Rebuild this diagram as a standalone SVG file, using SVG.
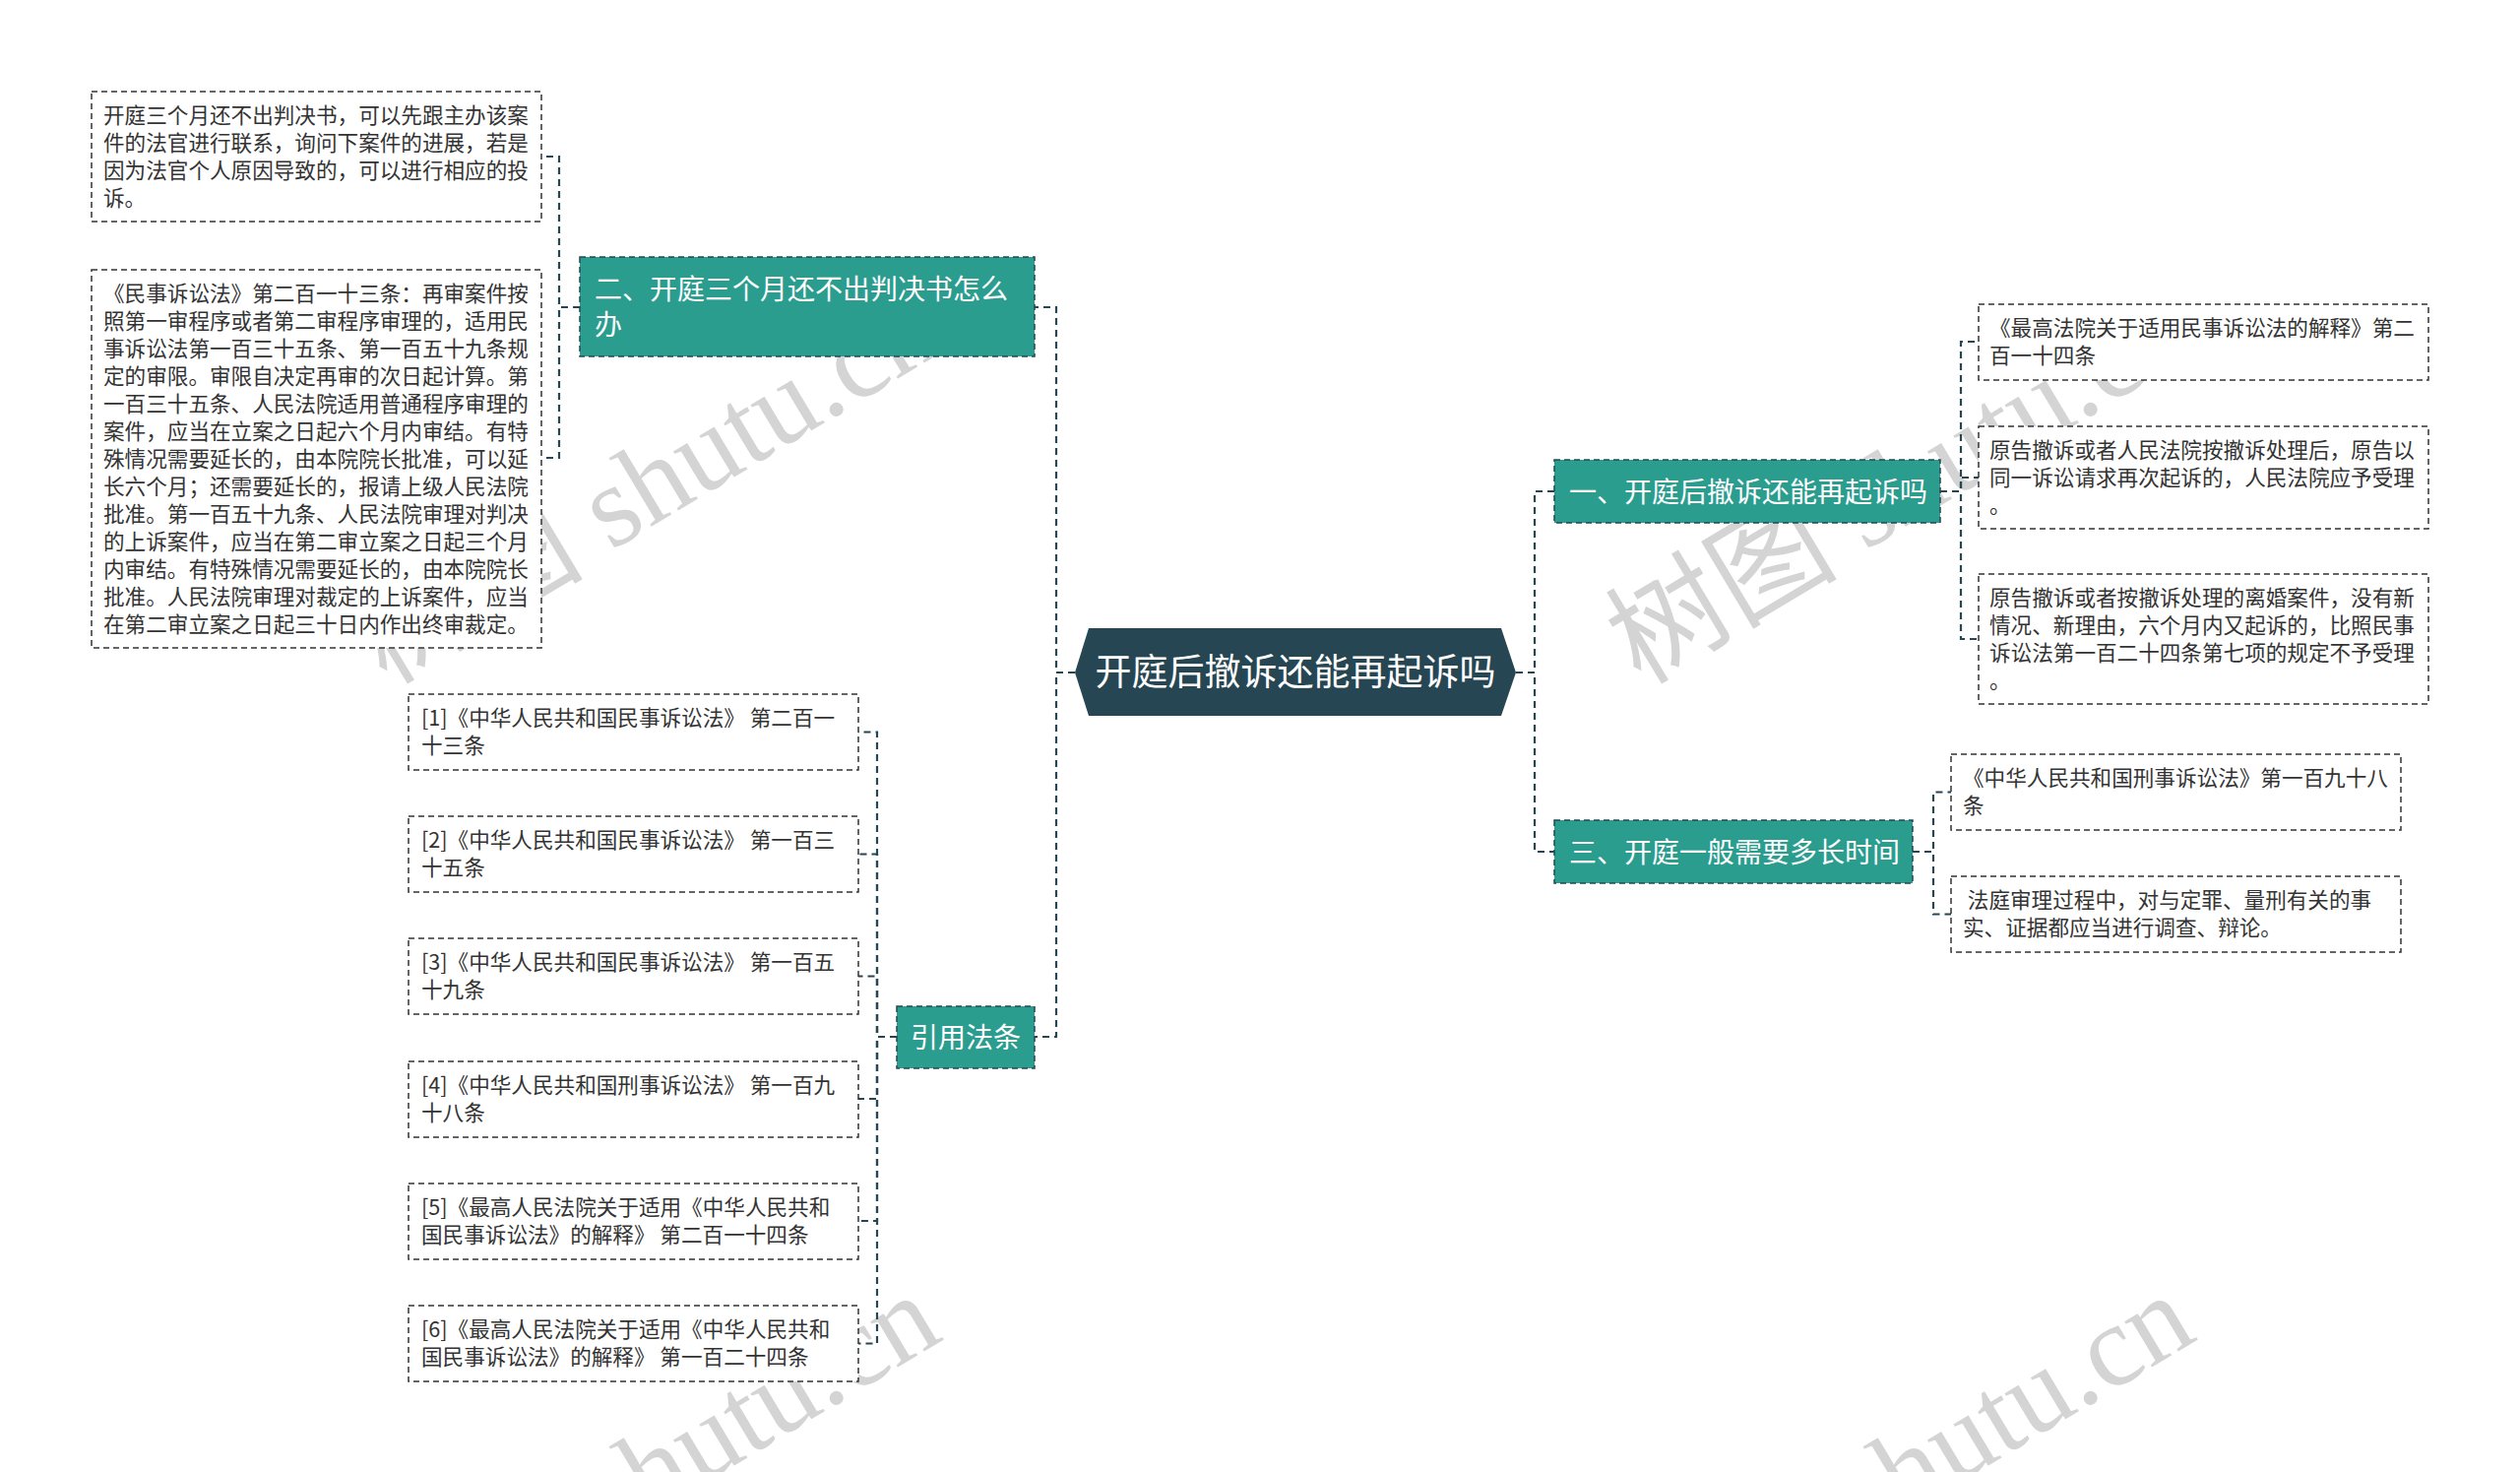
<svg xmlns="http://www.w3.org/2000/svg" width="2560" height="1495" viewBox="0 0 2560 1495">
<style>
.wm{font-family:"Liberation Serif","Noto Sans CJK SC",serif;font-size:118px;fill:#d4d4d4;text-anchor:middle}
.leaf rect{fill:#ffffff;stroke:#333333;stroke-width:1.5;stroke-dasharray:6 4}
.leaf text{font-family:"Noto Sans CJK SC","Microsoft YaHei",sans-serif;font-size:21.6px;fill:#333333}
.branch rect{fill:#2a9d8f;stroke:#264653;stroke-width:1.5;stroke-dasharray:6 4}
.branch text{font-family:"Noto Sans CJK SC","Microsoft YaHei",sans-serif;font-size:28px;fill:#ffffff}
.root polygon{fill:#264653}
.root text{font-family:"Noto Sans CJK SC","Microsoft YaHei",sans-serif;font-size:37px;fill:#ffffff;text-anchor:middle}
#connectors path{fill:none;stroke:#264653;stroke-width:2.2;stroke-dasharray:7 5}
</style>
<rect x="0" y="0" width="2560" height="1495" fill="#ffffff"/>
<g id="watermark">
<text class="wm" x="655" y="532" transform="rotate(-31 655 490)">树图 shutu.cn</text>
<text class="wm" x="1929" y="532" transform="rotate(-31 1929 490)">树图 shutu.cn</text>
<text class="wm" x="655" y="1536" transform="rotate(-31 655 1494)">树图 shutu.cn</text>
<text class="wm" x="1929" y="1536" transform="rotate(-31 1929 1494)">树图 shutu.cn</text>
</g>
<g id="connectors">
<path d="M1092 683 H1073 V312 H1051"/>
<path d="M1092 683 H1073 V1053 H1051"/>
<path d="M1540 683 H1559 V499 H1579"/>
<path d="M1540 683 H1559 V865 H1579"/>
<path d="M589 312 H568 V159 H550"/>
<path d="M589 312 H568 V465 H550"/>
<path d="M911 1053 H891 V743.5 H872"/>
<path d="M911 1053 H891 V867.5 H872"/>
<path d="M911 1053 H891 V991.5 H872"/>
<path d="M911 1053 H891 V1116 H872"/>
<path d="M911 1053 H891 V1240 H872"/>
<path d="M911 1053 H891 V1364.5 H872"/>
<path d="M1971 499 H1992 V347 H2010"/>
<path d="M1971 499 H1992 V485 H2010"/>
<path d="M1971 499 H1992 V649 H2010"/>
<path d="M1943 865 H1964 V804.5 H1982"/>
<path d="M1943 865 H1964 V928.5 H1982"/>
</g>
<g id="root" class="root">
<polygon points="1092,683 1106,638 1525,638 1540,683 1525,727 1106,727"/>
<text x="1316" y="696">开庭后撤诉还能再起诉吗</text>
</g>
<g id="branch2" class="branch">
<rect x="589" y="261" width="462" height="101"/>
<text x="604" y="304">二、开庭三个月还不出判决书怎么</text>
<text x="604" y="340">办</text>
</g>
<g id="branch-ref" class="branch">
<rect x="911" y="1022" width="140" height="63"/>
<text x="925" y="1064">引用法条</text>
</g>
<g id="branch1" class="branch">
<rect x="1579" y="467" width="392" height="64"/>
<text x="1594" y="510">一、开庭后撤诉还能再起诉吗</text>
</g>
<g id="branch3" class="branch">
<rect x="1579" y="833" width="364" height="64"/>
<text x="1594" y="876">三、开庭一般需要多长时间</text>
</g>
<g id="leaf-a" class="leaf">
<rect x="93" y="93" width="457" height="132"/>
<text x="105" y="125">开庭三个月还不出判决书，可以先跟主办该案</text>
<text x="105" y="153">件的法官进行联系，询问下案件的进展，若是</text>
<text x="105" y="181">因为法官个人原因导致的，可以进行相应的投</text>
<text x="105" y="209">诉。</text>
</g>
<g id="leaf-b" class="leaf">
<rect x="93" y="274" width="457" height="384"/>
<text x="105" y="306">《民事诉讼法》第二百一十三条：再审案件按</text>
<text x="105" y="334">照第一审程序或者第二审程序审理的，适用民</text>
<text x="105" y="362">事诉讼法第一百三十五条、第一百五十九条规</text>
<text x="105" y="390">定的审限。审限自决定再审的次日起计算。第</text>
<text x="105" y="418">一百三十五条、人民法院适用普通程序审理的</text>
<text x="105" y="446">案件，应当在立案之日起六个月内审结。有特</text>
<text x="105" y="474">殊情况需要延长的，由本院院长批准，可以延</text>
<text x="105" y="502">长六个月；还需要延长的，报请上级人民法院</text>
<text x="105" y="530">批准。第一百五十九条、人民法院审理对判决</text>
<text x="105" y="558">的上诉案件，应当在第二审立案之日起三个月</text>
<text x="105" y="586">内审结。有特殊情况需要延长的，由本院院长</text>
<text x="105" y="614">批准。人民法院审理对裁定的上诉案件，应当</text>
<text x="105" y="642">在第二审立案之日起三十日内作出终审裁定。</text>
</g>
<g id="ref1" class="leaf">
<rect x="415" y="705" width="457" height="77"/>
<text x="428" y="737">[1]《中华人民共和国民事诉讼法》 第二百一</text>
<text x="428" y="765">十三条</text>
</g>
<g id="ref2" class="leaf">
<rect x="415" y="829" width="457" height="77"/>
<text x="428" y="861">[2]《中华人民共和国民事诉讼法》 第一百三</text>
<text x="428" y="889">十五条</text>
</g>
<g id="ref3" class="leaf">
<rect x="415" y="953" width="457" height="77"/>
<text x="428" y="985">[3]《中华人民共和国民事诉讼法》 第一百五</text>
<text x="428" y="1013">十九条</text>
</g>
<g id="ref4" class="leaf">
<rect x="415" y="1078" width="457" height="77"/>
<text x="428" y="1110">[4]《中华人民共和国刑事诉讼法》 第一百九</text>
<text x="428" y="1138">十八条</text>
</g>
<g id="ref5" class="leaf">
<rect x="415" y="1202" width="457" height="77"/>
<text x="428" y="1234">[5]《最高人民法院关于适用《中华人民共和</text>
<text x="428" y="1262">国民事诉讼法》的解释》 第二百一十四条</text>
</g>
<g id="ref6" class="leaf">
<rect x="415" y="1326" width="457" height="77"/>
<text x="428" y="1358">[6]《最高人民法院关于适用《中华人民共和</text>
<text x="428" y="1386">国民事诉讼法》的解释》 第一百二十四条</text>
</g>
<g id="leaf-c1" class="leaf">
<rect x="2010" y="309" width="457" height="77"/>
<text x="2021" y="341">《最高法院关于适用民事诉讼法的解释》第二</text>
<text x="2021" y="369">百一十四条</text>
</g>
<g id="leaf-c2" class="leaf">
<rect x="2010" y="433" width="457" height="104"/>
<text x="2021" y="465">原告撤诉或者人民法院按撤诉处理后，原告以</text>
<text x="2021" y="493">同一诉讼请求再次起诉的，人民法院应予受理</text>
<text x="2021" y="521">。</text>
</g>
<g id="leaf-c3" class="leaf">
<rect x="2010" y="583" width="457" height="132"/>
<text x="2021" y="615">原告撤诉或者按撤诉处理的离婚案件，没有新</text>
<text x="2021" y="643">情况、新理由，六个月内又起诉的，比照民事</text>
<text x="2021" y="671">诉讼法第一百二十四条第七项的规定不予受理</text>
<text x="2021" y="699">。</text>
</g>
<g id="leaf-d1" class="leaf">
<rect x="1982" y="766" width="457" height="77"/>
<text x="1994" y="798">《中华人民共和国刑事诉讼法》第一百九十八</text>
<text x="1994" y="826">条</text>
</g>
<g id="leaf-d2" class="leaf">
<rect x="1982" y="890" width="457" height="77"/>
<text x="1994" y="922" xml:space="preserve"> 法庭审理过程中，对与定罪、量刑有关的事</text>
<text x="1994" y="950">实、证据都应当进行调查、辩论。</text>
</g>
</svg>
